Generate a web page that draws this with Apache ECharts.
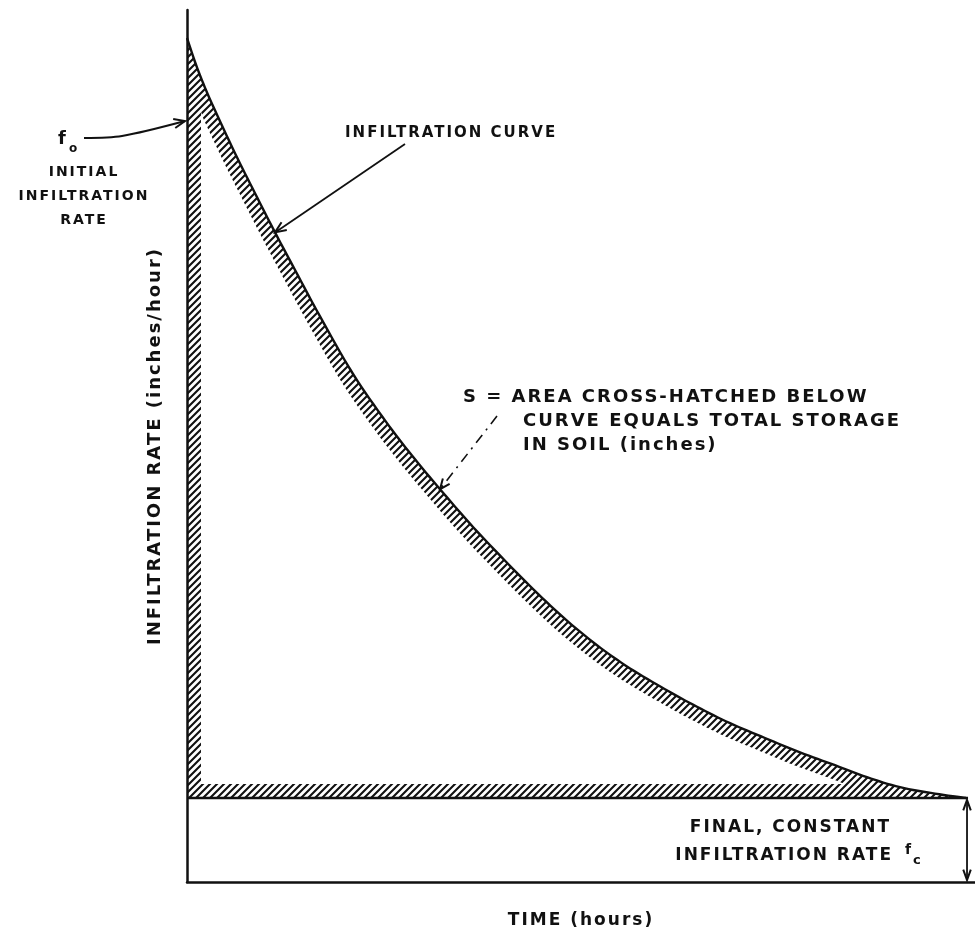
<!DOCTYPE html>
<html><head><meta charset="utf-8">
<script src="https://cdn.jsdelivr.net/npm/echarts@6/dist/echarts.min.js"></script>
<style>html,body{margin:0;padding:0;background:#fff}#c{width:975px;height:941px}</style>
</head><body><div id="c"></div>
<script>
// ---------- data ----------
const timeHours = [0, 1.02, 2.03, 3.30, 6.09, 8.63, 11.17, 14.09, 16.88, 21.07, 25.13, 28.55, 32.11, 35.91, 39.34, 43.53, 47.72, 52.03, 56.22, 60.66, 64.72, 68.91, 73.35, 77.79, 82.23, 86.29, 90.48, 94.92, 98.86];
const infiltrationRate = [105.5, 102.5, 99.9, 97.0, 91.1, 86.1, 81.2, 75.8, 70.7, 63.5, 57.7, 53.3, 49.1, 44.8, 41.2, 37.0, 33.1, 29.6, 26.7, 24.1, 21.9, 19.85, 18.0, 16.2, 14.6, 13.1, 11.85, 11.05, 10.5];
const finalRate = 10.5;          // f_c
const xRange = [0, 100];
const yRange = [0, 109];
const curveArrowIndex = 6;       // point the "INFILTRATION CURVE" arrow touches
const storageArrowIndex = 12;    // point the "S = ..." arrow touches

// ---------- text style ----------
(function(){
  const P = CanvasRenderingContext2D.prototype;
  if (!('letterSpacing' in P)) return;
  const LS = '2px';
  ['fillText','strokeText','measureText'].forEach(fn=>{
    const o = P[fn];
    P[fn] = function(){ try{ if (this.letterSpacing !== LS) this.letterSpacing = LS; }catch(e){} return o.apply(this, arguments); };
  });
})();
const INK = '#111';
const FAMILY = '"DejaVu Sans", sans-serif';

function makeHatch(){
  const n = 7;
  const c = document.createElement('canvas'); c.width = n; c.height = n;
  const g = c.getContext('2d');
  g.strokeStyle = INK; g.lineWidth = 2.1;
  g.beginPath();
  g.moveTo(0,n); g.lineTo(n,0);
  g.moveTo(-1,1); g.lineTo(1,-1);
  g.moveTo(n-1,n+1); g.lineTo(n+1,n-1);
  g.stroke();
  return c;
}
const hatch = makeHatch();

function head(tip, from, len, ang){
  const dx = tip[0]-from[0], dy = tip[1]-from[1];
  const L = Math.hypot(dx,dy); const bx = -dx/L, by = -dy/L;
  const c = Math.cos(ang), s = Math.sin(ang);
  const p1 = [tip[0] + len*(bx*c - by*s), tip[1] + len*(bx*s + by*c)];
  const p2 = [tip[0] + len*(bx*c + by*s), tip[1] + len*(-bx*s + by*c)];
  return {type:'polyline', shape:{points:[p1, tip, p2]}, style:{stroke:INK, lineWidth:2, fill:'none'}};
}

// Catmull-Rom drawing of the curve through the pixel positions of the data points
function spline(P, n){
  const out = [];
  for (let i = 0; i < P.length-1; i++){
    const p0 = P[Math.max(i-1,0)], p1 = P[i], p2 = P[i+1], p3 = P[Math.min(i+2,P.length-1)];
    for (let s = 0; s < n; s++){
      const t = s/n, t2 = t*t, t3 = t2*t;
      const f = k => 0.5*((2*p1[k]) + (-p0[k]+p2[k])*t + (2*p0[k]-5*p1[k]+4*p2[k]-p3[k])*t2 + (-p0[k]+3*p1[k]-3*p2[k]+p3[k])*t3);
      out.push([f(0), f(1)]);
    }
  }
  out.push(P[P.length-1]);
  return out;
}

const chart = echarts.init(document.getElementById('c'), null, {renderer:'canvas'});

function renderItem(params, api){
  const raw = timeHours.map((t,i) => api.coord([t, infiltrationRate[i]]));
  const pts = spline(raw, 8);
  const corner = api.coord([0, finalRate]);
  const axisX = corner[0], fcY = corner[1];
  const last = raw[raw.length-1];
  const baseY = api.coord([0, yRange[0]])[1];
  const W = 14, SW = 14, SH = 14;

  const area = pts.concat([[axisX, fcY]]);
  const inner = pts.map((p,i) => {
    const a = pts[Math.max(0,i-1)], b = pts[Math.min(pts.length-1,i+1)];
    let tx = b[0]-a[0], ty = b[1]-a[1]; const L = Math.hypot(tx,ty); tx/=L; ty/=L;
    let x = p[0] - ty*W, y = p[1] + tx*W;
    x = Math.max(x, axisX + SW); y = Math.min(y, fcY - SH);
    return [x, y];
  });
  inner.push([axisX + SW, fcY - SH]);

  const children = [
    {type:'polygon', shape:{points:area}, style:{fill:{image:hatch, repeat:'repeat'}, stroke:null}},
    {type:'polygon', shape:{points:inner}, style:{fill:'#fff', stroke:null}},
    {type:'polyline', shape:{points:pts}, style:{stroke:INK, lineWidth:2.4, fill:'none'}},
    {type:'line', shape:{x1:axisX, y1:fcY, x2:last[0]+2, y2:fcY}, style:{stroke:INK, lineWidth:2.4}}
  ];

  // INFILTRATION CURVE arrow
  const tipC = raw[curveArrowIndex];
  const tailC = [405, 144];
  children.push({type:'line', shape:{x1:tailC[0], y1:tailC[1], x2:tipC[0], y2:tipC[1]}, style:{stroke:INK, lineWidth:1.8}});
  children.push(head(tipC, tailC, 12, 0.4));

  // S arrow (dash-dot)
  const tipS = raw[storageArrowIndex];
  const tailS = [497, 416];
  children.push({type:'line', shape:{x1:tailS[0], y1:tailS[1], x2:tipS[0], y2:tipS[1]}, style:{stroke:INK, lineWidth:1.6, lineDash:[10,6,2,6]}});
  children.push(head(tipS, tailS, 11, 0.4));

  // f0 arrow
  const tip0 = [axisX - 2, 121];
  children.push({type:'polyline', shape:{points:[[84,138],[122,136],[tip0[0],tip0[1]]], smooth:0.3}, style:{stroke:INK, lineWidth:2, fill:'none'}});
  children.push(head(tip0, [150,129], 12, 0.4));

  // f_c double arrow
  const ax = last[0] + 1;
  children.push({type:'line', shape:{x1:ax, y1:fcY+2, x2:ax, y2:baseY-2}, style:{stroke:INK, lineWidth:1.8}});
  children.push(head([ax, fcY+2], [ax, baseY], 11, 0.35));
  children.push(head([ax, baseY-2], [ax, fcY], 11, 0.35));

  return {type:'group', children};
}

function txt(text, x, y, size, align){
  return {type:'text', z:100, style:{text, x, y, fill:INK, fontFamily:FAMILY, fontWeight:'bold', fontSize:size, textAlign:align||'left', textVerticalAlign:'middle'}};
}

chart.setOption({
  animation:false,
  backgroundColor:'#fff',
  grid:{left:187, right:0, top:10, bottom:59, containLabel:false},
  xAxis:{type:'value', min:xRange[0], max:xRange[1],
    axisLine:{show:true, onZero:false, lineStyle:{color:INK, width:2.5}},
    axisTick:{show:false}, axisLabel:{show:false}, splitLine:{show:false},
    name:'TIME (hours)', nameLocation:'middle', nameGap:29,
    nameTextStyle:{color:INK, fontFamily:FAMILY, fontWeight:'bold', fontSize:17}},
  yAxis:{type:'value', min:yRange[0], max:yRange[1],
    axisLine:{show:true, onZero:false, lineStyle:{color:INK, width:2.5}},
    axisTick:{show:false}, axisLabel:{show:false}, splitLine:{show:false},
    name:'INFILTRATION RATE (inches/hour)', nameLocation:'middle', nameGap:22,
    nameTextStyle:{color:INK, fontFamily:FAMILY, fontWeight:'bold', fontSize:18}},
  series:[{type:'custom', coordinateSystem:'cartesian2d', clip:false, data:[[0, finalRate]], renderItem, silent:true}],
  graphic:[
    txt('f', 58, 139, 18), txt('o', 69, 149, 12),
    txt('INITIAL', 84, 172, 14, 'center'),
    txt('INFILTRATION', 84, 196, 14, 'center'),
    txt('RATE', 84, 220, 14, 'center'),
    txt('INFILTRATION CURVE', 345, 133, 15),
    txt('S = AREA CROSS-HATCHED BELOW', 463, 397, 18),
    txt('CURVE EQUALS TOTAL STORAGE', 523, 421, 18),
    txt('IN SOIL (inches)', 523, 445, 18),
    txt('FINAL, CONSTANT', 891, 828, 17, 'right'),
    txt('INFILTRATION RATE', 893, 856, 17, 'right'),
    txt('f', 905, 850, 14), txt('c', 913, 861, 13)
  ]
});
</script></body></html>
